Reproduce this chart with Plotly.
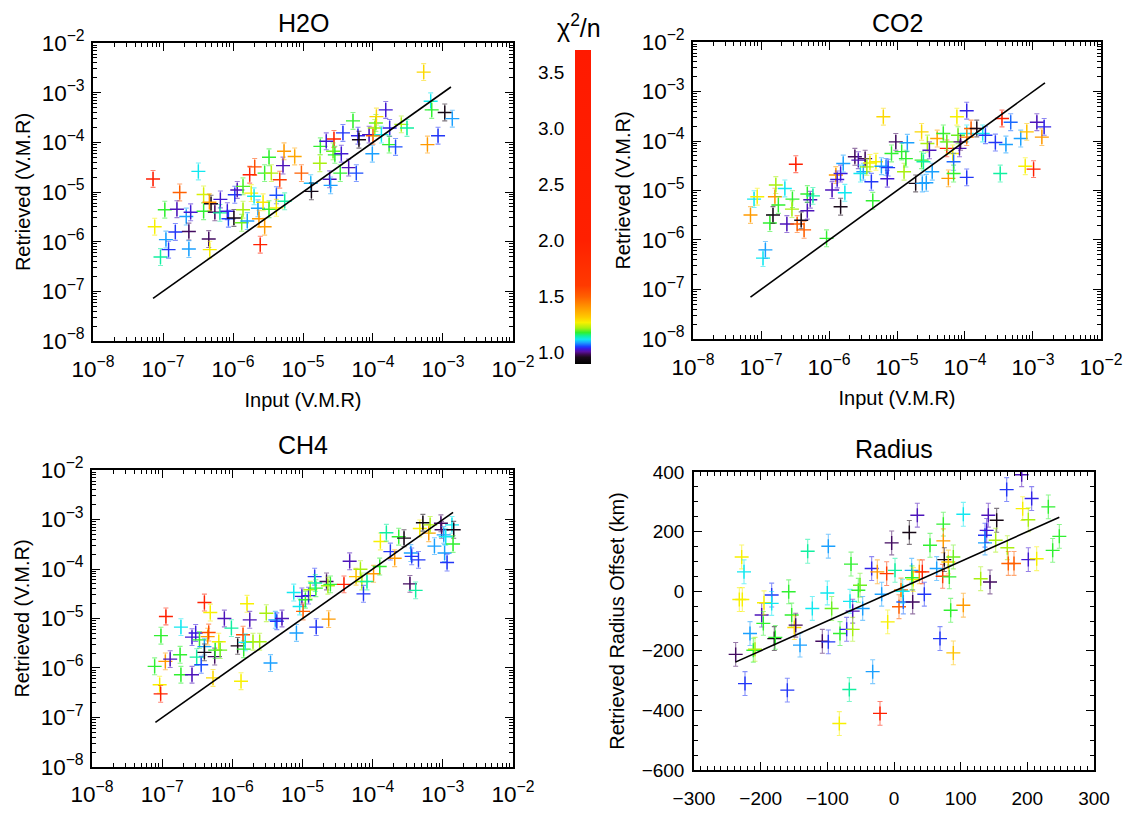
import plotly.graph_objects as go
from plotly.colors import sample_colorscale

FONT = "Liberation Sans, Arial, Helvetica, sans-serif"
W, H = 1140, 813

# ---------------- colour scale (chi^2/n) ----------------
CHI_MIN, CHI_MAX = 0.9, 3.7
CHI_STOPS = [0.90, 0.96, 0.985, 1.01, 1.035, 1.055, 1.09, 1.12, 1.15, 1.18,
             1.22, 1.27, 1.32, 1.40, 1.50, 1.60, 2.0, 3.7]
CHI_COLORS = ["rgb(0,0,0)", "rgb(26,10,26)", "rgb(60,10,80)", "rgb(90,16,160)",
              "rgb(58,26,224)", "rgb(26,64,255)", "rgb(26,160,255)", "rgb(16,232,240)",
              "rgb(16,240,160)", "rgb(48,240,48)", "rgb(168,240,16)", "rgb(248,240,0)",
              "rgb(255,200,0)", "rgb(255,154,0)", "rgb(255,96,0)", "rgb(255,58,0)",
              "rgb(255,32,0)", "rgb(255,26,0)"]
CBAR_TICKS = [1.0, 1.5, 2.0, 2.5, 3.0, 3.5]

# ---------------- H2O ----------------
H2O_INPUT = [7.2e-8, 7.6e-8, 9.2e-8, 1.06e-7, 1.1e-7, 1.2e-7, 1.73e-7, 1.5e-7, 1.58e-7, 2.15e-7,
             2.48e-7, 2.34e-7, 2.34e-7, 3.2e-7, 3.8e-7, 3.8e-7, 4.5e-7, 4.65e-7, 4.85e-7, 4.6e-7,
             5.5e-7, 6.5e-7, 6.6e-7, 8.3e-7, 8.6e-7, 1.03e-6, 1.06e-6, 1.15e-6, 1.33e-6, 1.39e-6,
             1.39e-6, 1.6e-6, 1.73e-6, 2.04e-6, 1.82e-6, 2.0e-6, 2.27e-6, 2.35e-6, 2.45e-6, 2.69e-6,
             2.83e-6, 2.83e-6, 3.27e-6, 3.27e-6, 3.53e-6, 4.17e-6, 4.17e-6, 4.65e-6, 5.18e-6, 5.36e-6,
             5.47e-6, 7.6e-6, 9.5e-6, 1.29e-5, 1.32e-5, 1.77e-5, 1.74e-5, 2.15e-5, 2.4e-5, 2.48e-5,
             2.77e-5, 2.69e-5, 2.85e-5, 3.53e-5, 3.72e-5, 3.41e-5, 4.49e-5, 5.18e-5, 5.78e-5, 6.1e-5,
             6.3e-5, 8.8e-5, 9.8e-5, 1.0e-4, 1.06e-4, 1.1e-4, 1.12e-4, 1.52e-4, 1.32e-4, 1.73e-4,
             1.7e-4, 2.1e-4, 2.54e-4, 3.06e-4, 5.3e-4, 6.0e-4, 6.67e-4, 6.9e-4, 8.5e-4, 1.06e-3,
             1.36e-3]
H2O_RETRIEVED = [1.83e-5, 2.0e-6, 4.9e-7, 4.4e-6, 1.1e-6, 6.9e-7, 9.8e-6, 1.57e-6, 4.5e-6, 3.2e-6,
                 3.9e-6, 1.6e-6, 7.1e-7, 2.6e-5, 8.9e-6, 4.1e-6, 1.13e-6, 6.9e-7, 5.8e-6, 6.2e-6,
                 3.9e-6, 3.8e-6, 7.1e-6, 4.1e-6, 2.9e-6, 3.0e-6, 8.8e-6, 1.1e-5, 2.4e-6, 4.4e-6,
                 1.3e-5, 2.6e-6, 2.23e-5, 3.2e-5, 9.5e-6, 8.2e-6, 4.7e-6, 2.9e-6, 8.7e-7, 6.2e-6,
                 2.0e-6, 2.4e-5, 5.0e-5, 4.5e-6, 2.4e-5, 8.6e-6, 4.8e-6, 1.77e-5, 3.4e-5, 6.6e-5,
                 6.5e-6, 5.2e-5, 2.4e-5, 1.5e-5, 1.03e-5, 8.3e-5, 3.8e-5, 1.05e-4, 1.8e-5, 1.36e-5,
                 1.17e-4, 6.6e-5, 5.6e-5, 5.9e-5, 1.55e-4, 2.4e-5, 3.1e-5, 2.7e-4, 2.4e-5, 1.36e-4,
                 1.13e-4, 1.43e-4, 5.9e-5, 1.36e-4, 1.95e-4, 2.46e-4, 3.3e-4, 4.5e-4, 1.43e-4, 1.95e-4,
                 9.0e-5, 8.1e-5, 2.3e-4, 1.95e-4, 2.6e-3, 9.0e-5, 6.7e-4, 4.5e-4, 1.36e-4, 4.0e-4,
                 3.0e-4]
H2O_CHI = [2.5, 1.27, 1.15, 1.18, 1.09, 1.05, 1.5, 1.05, 1.02, 1.09,
           1.03, 0.99, 1.09, 1.12, 1.25, 1.18, 0.99, 1.27, 0.95, 1.40,
           0.99, 1.15, 1.03, 1.035, 1.055, 0.96, 1.05, 1.02, 1.2, 1.22,
           1.19, 1.09, 2.2, 1.55, 1.27, 1.12, 1.09, 1.40, 2.0, 1.28,
           1.40, 1.18, 1.18, 1.18, 1.23, 1.06, 1.27, 1.6, 1.02, 1.40,
           1.15, 1.38, 1.5, 1.1, 0.95, 1.18, 1.22, 1.03, 1.02, 1.09,
           2.0, 1.2, 1.18, 1.03, 1.05, 1.18, 1.02, 1.18, 1.06, 1.04,
           0.95, 1.02, 1.09, 1.5, 1.22, 1.2, 1.3, 1.03, 1.12, 1.04,
           1.18, 1.06, 1.22, 1.15, 1.3, 1.40, 1.12, 1.18, 1.05, 0.95,
           1.09]

# ---------------- CO2 ----------------
CO2_INPUT = [7.0e-8, 7.9e-8, 8.8e-8, 1.07e-7, 1.16e-7, 1.35e-7, 1.5e-7, 1.6e-7, 1.65e-7, 1.8e-7,
             2.24e-7, 2.4e-7, 3.25e-7, 2.9e-7, 2.85e-7, 3.4e-7, 3.9e-7, 4.3e-7, 4.8e-7, 4.8e-7,
             5.3e-7, 5.8e-7, 9.2e-7, 1.11e-6, 1.26e-6, 1.32e-6, 1.48e-6, 1.48e-6, 1.62e-6, 1.71e-6,
             2.4e-6, 2.7e-6, 3.4e-6, 3.2e-6, 2.9e-6, 4.0e-6, 3.6e-6, 4.2e-6, 4.4e-6, 4.9e-6,
             5.9e-6, 6.3e-6, 6.9e-6, 7.2e-6, 7.4e-6, 8.3e-6, 9.6e-6, 1.17e-5, 1.27e-5, 1.35e-5,
             1.42e-5, 1.88e-5, 2.3e-5, 2.3e-5, 2.45e-5, 2.36e-5, 2.7e-5, 2.8e-5, 3.0e-5, 3.3e-5,
             3.9e-5, 4.8e-5, 5.4e-5, 5.7e-5, 5.4e-5, 6.6e-5, 6.8e-5, 6.8e-5, 7.6e-5, 8.3e-5,
             7.9e-5, 8.6e-5, 1.06e-4, 1.06e-4, 1.06e-4, 1.23e-4, 1.06e-4, 1.49e-4, 1.82e-4, 2.0e-4,
             2.8e-4, 3.5e-4, 3.3e-4, 4.0e-4, 4.7e-4, 6.6e-4, 7.7e-4, 8.1e-4, 1.02e-3, 1.14e-3,
             1.35e-3, 1.46e-3]
CO2_RETRIEVED = [3.2e-6, 6.7e-6, 7.5e-6, 4.3e-7, 6.3e-7, 2.2e-6, 3.2e-6, 7.5e-6, 1.29e-5, 5.1e-6,
                 1.1e-5, 2.1e-6, 3.4e-5, 6.7e-6, 4.2e-6, 2.1e-6, 2.5e-6, 1.6e-6, 3.9e-6, 8.5e-6,
                 6.5e-6, 7.8e-6, 1.08e-6, 1.02e-5, 2.05e-5, 1.67e-5, 2.2e-5, 4.7e-6, 3.5e-5, 9.0e-6,
                 4.8e-5, 4.1e-5, 4.4e-5, 2.4e-5, 2.2e-5, 3.6e-5, 3.0e-5, 1.5e-5, 6.2e-6, 3.8e-5,
                 3.1e-5, 3.1e-4, 3.0e-5, 1.73e-5, 2.9e-5, 5.6e-5, 9.6e-5, 6.1e-5, 2.4e-5, 4.4e-5,
                 9.2e-5, 1.39e-5, 1.53e-4, 4.1e-5, 3.8e-5, 1.39e-5, 1.43e-5, 8.9e-5, 6.5e-5, 2.4e-5,
                 1.12e-4, 1.42e-4, 7.1e-5, 1.76e-5, 9.6e-5, 5.6e-5, 3.8e-5, 2.2e-5, 3.1e-4, 7.1e-5,
                 1.31e-4, 9.6e-5, 4.1e-4, 1.84e-5, 1.42e-4, 1.79e-4, 1.2e-4, 1.79e-4, 1.42e-4, 1.31e-4,
                 9.3e-5, 2.85e-4, 2.2e-5, 8.5e-5, 2.4e-4, 1.12e-4, 3.1e-5, 1.53e-4, 2.7e-5, 2.4e-4,
                 1.2e-4, 1.93e-4]
CO2_CHI = [1.40, 1.12, 1.27, 1.12, 1.09, 1.18, 0.95, 1.40, 1.22, 1.18,
           1.12, 1.02, 2.3, 1.18, 1.22, 1.5, 0.95, 1.5, 1.02, 1.18,
           1.02, 1.15, 1.18, 1.02, 1.40, 1.03, 1.035, 0.96, 1.09, 1.12,
           0.99, 1.02, 0.99, 1.09, 1.12, 1.27, 1.22, 1.05, 1.18, 1.27,
           1.09, 1.30, 1.08, 1.03, 1.05, 1.18, 0.99, 1.18, 1.22, 1.18,
           1.09, 0.95, 1.30, 1.18, 1.15, 1.09, 1.09, 1.22, 1.02, 1.09,
           1.38, 1.18, 2.0, 1.40, 1.2, 1.27, 1.07, 1.18, 1.27, 1.02,
           1.2, 0.99, 1.04, 1.05, 1.12, 1.5, 1.45, 0.96, 1.12, 1.05,
           1.05, 2.2, 1.15, 1.09, 1.07, 1.09, 1.27, 1.33, 2.2, 1.02,
           1.40, 1.04]

# ---------------- CH4 ----------------
CH4_INPUT = [7.8e-8, 9.2e-8, 9.5e-8, 9.6e-8, 1.11e-7, 1.13e-7, 1.3e-7, 1.8e-7, 1.85e-7, 1.85e-7,
             2.66e-7, 2.66e-7, 3.0e-7, 3.1e-7, 3.4e-7, 3.6e-7, 4.0e-7, 4.0e-7, 4.0e-7, 4.45e-7,
             4.6e-7, 4.85e-7, 5.3e-7, 5.6e-7, 5.7e-7, 6.4e-7, 6.7e-7, 7.7e-7, 9.7e-7, 1.19e-6,
             1.42e-6, 1.33e-6, 1.45e-6, 1.53e-6, 1.62e-6, 1.77e-6, 1.97e-6, 2.45e-6, 3.05e-6, 3.5e-6,
             4.1e-6, 4.3e-6, 5.1e-6, 7.5e-6, 8.2e-6, 9.1e-6, 9.8e-6, 1.02e-5, 1.1e-5, 1.22e-5,
             1.29e-5, 1.49e-5, 1.57e-5, 1.55e-5, 1.52e-5, 2.2e-5, 2.3e-5, 2.5e-5, 2.36e-5, 3.9e-5,
             4.7e-5, 5.8e-5, 6.7e-5, 7.0e-5, 7.4e-5, 8.3e-5, 1.03e-4, 1.26e-4, 1.29e-4, 1.57e-4,
             1.79e-4, 2.06e-4, 2.35e-4, 2.8e-4, 3.4e-4, 3.5e-4, 3.6e-4, 4.1e-4, 4.5e-4, 4.7e-4,
             5.2e-4, 6.3e-4, 6.6e-4, 7.6e-4, 9.4e-4, 9.6e-4, 1.03e-3, 1.06e-3, 1.15e-3, 1.1e-3,
             1.35e-3, 1.43e-3, 1.4e-3]
CH4_RETRIEVED = [1.08e-6, 4.6e-7, 3.0e-7, 4.5e-6, 1.36e-6, 1.1e-5, 1.51e-6, 1.85e-6, 7.3e-7, 6.7e-6,
                 7.3e-7, 4.2e-6, 5.1e-6, 1.66e-6, 3.7e-6, 1.16e-6, 2.7e-6, 2.07e-6, 2.1e-5, 4.3e-6,
                 5.2e-6, 1.32e-5, 6.3e-7, 1.7e-6, 2.3e-6, 3.4e-6, 2.3e-6, 1.0e-5, 6.4e-6, 2.8e-6,
                 4.7e-6, 5.4e-7, 2.4e-6, 3.3e-6, 1.98e-5, 9.4e-6, 3.4e-6, 3.4e-6, 1.28e-5, 1.26e-6,
                 9.4e-6, 8.8e-6, 1.0e-5, 3.35e-5, 5.1e-6, 1.75e-5, 2.8e-5, 1.39e-5, 2.4e-5, 2.9e-5,
                 3.8e-5, 7.0e-5, 6.7e-6, 4.1e-5, 5.2e-5, 5.6e-5, 4.6e-5, 4.9e-5, 9.7e-6, 4.9e-5,
                 1.43e-4, 7.0e-5, 9.9e-5, 5.6e-5, 3.15e-5, 5.6e-5, 8.0e-5, 1.12e-4, 3.6e-4, 5.4e-4,
                 2.25e-4, 1.65e-4, 4.5e-4, 4.2e-4, 5.0e-5, 2.1e-4, 1.8e-4, 3.7e-5, 1.53e-4, 6.6e-4,
                 8.6e-4, 5.3e-4, 7.8e-4, 2.9e-4, 8.4e-4, 6.2e-4, 4.9e-4, 2.1e-4, 1.35e-4, 4.5e-4,
                 7.8e-4, 6.2e-4, 3.2e-4]
CH4_CHI = [1.18, 1.27, 2.3, 1.18, 1.40, 2.1, 1.02, 1.18, 1.18, 1.12,
           1.02, 1.03, 1.035, 1.15, 1.18, 1.06, 1.09, 0.96, 2.0, 1.40,
           1.55, 1.27, 1.30, 0.99, 1.18, 1.27, 1.2, 1.02, 1.15, 0.95,
           1.55, 1.27, 1.18, 1.12, 1.27, 1.02, 1.22, 1.22, 1.22, 1.09,
           1.09, 1.05, 1.02, 1.12, 1.09, 1.12, 1.03, 1.5, 1.18, 1.04,
           1.22, 1.05, 1.05, 1.18, 1.15, 0.99, 1.22, 1.18, 1.40, 2.0,
           1.02, 1.33, 1.22, 1.22, 1.05, 1.15, 1.40, 1.18, 1.27, 1.15,
           1.05, 1.40, 1.18, 0.96, 0.99, 1.09, 1.05, 1.15, 1.05, 1.27,
           0.93, 1.40, 1.22, 1.09, 0.99, 0.99, 1.09, 1.09, 1.05, 1.12,
           1.12, 0.95, 1.18]

# ---------------- Radius ----------------
RAD_INPUT = [-237.5, -228.5, -232, -227.5, -225, -223.5, -216, -211, -208.5, -198.5,
             -196, -195, -183.5, -183.5, -179.5, -178, -160, -158, -153.5, -149.5,
             -147.5, -141, -129.5, -122.5, -107.5, -100, -98.5, -98.5, -93.5, -81,
             -82, -71, -67, -64.5, -66, -62, -62, -53.5, -51, -47,
             -32, -33.5, -25, -21, -18.5, -11, -9.5, -3.5, 1.5, 7.5,
             10.5, 14, 13, 23, 26.5, 28, 29, 27, 35, 38,
             42.5, 45.5, 54, 64, 69, 74, 74, 73, 75.5, 81.5,
             83, 85, 89, 89, 104, 104, 130, 136.5, 136.5, 139,
             141.5, 144, 154, 152.5, 169, 170, 171.5, 180, 191.5, 193,
             201.5, 201.5, 206.5, 214, 231.5, 238, 248]
RAD_RETRIEVED = [-212, 115, -28, -28, 65, -310, -142, -198, -195, -80,
                 -108, -39, -13, -41, -159, -155, -332, -2, -80, -122,
                 -114, -181, 134, -58, -168, -6, -170, 151, -58, -142,
                 -444, -128, -330, 91, -34, -67, -128, 3, 20, -58,
                 -270, 76, 65, -410, -10, 59, -103, 162, 70, -52,
                 4, -36, 0, 197, 70, -36, 39, 45, 255, 65,
                 65, -10, 154, 76, -159, 225, 169, 50, 106, 98,
                 48, -64, 115, -207, -47, 258, 42, 188, 162, 204,
                 255, 31, 238, 171, 341, 146, 93, 93, 391, 277,
                 240, 106, 311, 109, 283, 137, 184]
RAD_CHI = [0.99, 1.27, 1.27, 1.27, 1.12, 1.05, 1.09, 1.18, 1.22, 1.02,
           1.18, 1.27, 1.05, 1.12, 0.95, 1.18, 1.05, 1.18, 1.18, 1.30,
           0.99, 1.09, 1.15, 1.12, 0.99, 1.12, 1.05, 1.09, 1.2, 1.18,
           1.27, 1.04, 1.15, 1.18, 1.12, 1.02, 1.22, 1.18, 1.2, 1.09,
           1.09, 1.04, 1.40, 2.2, 1.09, 1.6, 1.27, 0.99, 1.15, 1.5,
           1.45, 1.07, 1.12, 0.95, 1.09, 0.99, 1.27, 1.18, 1.02, 1.40,
           2.0, 1.05, 1.18, 1.09, 1.05, 1.18, 1.40, 1.6, 0.95, 1.32,
           1.18, 1.18, 1.2, 1.33, 1.40, 1.12, 1.22, 1.05, 1.09, 1.03,
           1.02, 0.99, 0.95, 1.22, 1.05, 1.22, 1.5, 1.5, 1.02, 1.27,
           1.22, 1.03, 1.04, 1.27, 1.18, 1.18, 1.18]

# one-to-one reference lines
H2O_LINE = [7.2e-8, 1.3e-3]
CO2_LINE = [7.0e-8, 1.5e-3]
CH4_LINE = [8.0e-8, 1.4e-3]
RAD_LINE = [-238, 248]

# uncertainties
LOG_ERR_DEX = 0.17
RAD_ERR = 40

# ---------------- figure ----------------
span = CHI_MAX - CHI_MIN
colorscale = [[(v - CHI_MIN) / span, c] for v, c in zip(CHI_STOPS, CHI_COLORS)]


def chi_color(v):
    p = min(max((v - CHI_MIN) / span, 0.0), 1.0)
    return sample_colorscale(colorscale, [p])[0]


def with_alpha(rgb, a):
    inner = rgb[rgb.index("(") + 1: rgb.index(")")]
    return f"rgba({inner},{a})"


fig = go.Figure()


def add_points(xs, ys, chis, xa, ya, log):
    for x, y, c in zip(xs, ys, chis):
        col = chi_color(c)
        if log:
            up = y * (10 ** LOG_ERR_DEX - 1)
            lo = y * (1 - 10 ** (-LOG_ERR_DEX))
        else:
            up = lo = RAD_ERR
        fig.add_trace(go.Scatter(
            x=[x], y=[y], xaxis=xa, yaxis=ya, mode="markers",
            marker=dict(symbol="cross-thin", size=10, line=dict(width=1.4, color=col)),
            error_y=dict(type="data", symmetric=False, array=[up], arrayminus=[lo],
                         color=with_alpha(col, 0.55), thickness=1.1, width=2.5),
            hoverinfo="skip", showlegend=False))


def add_line(vals, xa, ya):
    fig.add_trace(go.Scatter(x=vals, y=vals, xaxis=xa, yaxis=ya, mode="lines",
                             line=dict(color="black", width=1.6),
                             hoverinfo="skip", showlegend=False))


add_points(H2O_INPUT, H2O_RETRIEVED, H2O_CHI, "x", "y", True)
add_line(H2O_LINE, "x", "y")
add_points(CO2_INPUT, CO2_RETRIEVED, CO2_CHI, "x2", "y2", True)
add_line(CO2_LINE, "x2", "y2")
add_points(CH4_INPUT, CH4_RETRIEVED, CH4_CHI, "x3", "y3", True)
add_line(CH4_LINE, "x3", "y3")
add_points(RAD_INPUT, RAD_RETRIEVED, RAD_CHI, "x4", "y4", False)
add_line(RAD_LINE, "x4", "y4")

# colour bar (from a hidden trace)
CB_TOP, CB_BOT, CB_LEFT, CB_W = 50, 364, 575, 16
fig.add_trace(go.Scatter(
    x=[None], y=[None], xaxis="x", yaxis="y", mode="markers", showlegend=False,
    hoverinfo="skip",
    marker=dict(color=[CHI_MIN], cmin=CHI_MIN, cmax=CHI_MAX, colorscale=colorscale,
                showscale=True,
                colorbar=dict(x=CB_LEFT / W, xanchor="left", xpad=0, ypad=0,
                              y=1 - (CB_TOP + CB_BOT) / 2 / H, yanchor="middle",
                              len=CB_BOT - CB_TOP, lenmode="pixels",
                              thickness=CB_W, thicknessmode="pixels",
                              outlinewidth=0, ticks="", showticklabels=False))))


def px_dom_x(a, b):
    return [a / W, b / W]


def px_dom_y(top, bottom):
    return [1 - bottom / H, 1 - top / H]


tickfont = dict(family=FONT, size=18, color="black")
titlefont = dict(family=FONT, size=20, color="black")


def log_axis(dom, anchor, title=None, is_y=False, standoff=8):
    d = dict(type="log", range=[-8.0005, -1.9995], domain=dom, anchor=anchor, dtick=1,
             exponentformat="power", showexponent="all", automargin=False,
             ticks="inside", ticklen=8, tickwidth=1.2, tickcolor="black",
             minor=dict(ticks="inside", ticklen=4, dtick="D1", tickcolor="black", tickwidth=1),
             showline=True, linecolor="black", linewidth=1.5, mirror="allticks",
             showgrid=False, zeroline=False, tickfont=tickfont,
             ticklabelstandoff=3 if is_y else standoff)
    if title:
        d["title"] = dict(text=title, font=titlefont, standoff=6 if is_y else 12)
    return d


def lin_axis(dom, anchor, rng, dtick, mdtick, title=None, is_y=False, standoff=8):
    d = dict(type="linear", range=rng, domain=dom, anchor=anchor, dtick=dtick,
             automargin=False,
             ticks="inside", ticklen=8, tickwidth=1.2, tickcolor="black",
             minor=dict(ticks="inside", ticklen=4, dtick=mdtick, tickcolor="black", tickwidth=1),
             showline=True, linecolor="black", linewidth=1.5, mirror="allticks",
             showgrid=False, zeroline=False, tickfont=dict(family=FONT, size=19, color="black"),
             ticklabelstandoff=4 if is_y else standoff)
    if title:
        d["title"] = dict(text=title, font=titlefont, standoff=12 if is_y else 12)
    return d


PANELS = {
    "h2o": (93, 513, 43, 341),
    "co2": (693, 1101, 42, 339),
    "ch4": (92, 513, 470, 767),
    "rad": (694, 1094, 472, 770),
}

fig.update_layout(
    width=W, height=H, autosize=False,
    margin=dict(l=0, r=0, t=0, b=0, pad=0),
    paper_bgcolor="white", plot_bgcolor="white",
    font=dict(family=FONT, color="black"),
    showlegend=False,
    xaxis=log_axis(px_dom_x(*PANELS["h2o"][:2]), "y", "Input (V.M.R)"),
    yaxis=log_axis(px_dom_y(*PANELS["h2o"][2:]), "x", "Retrieved (V.M.R)", True),
    xaxis2=log_axis(px_dom_x(*PANELS["co2"][:2]), "y2", "Input (V.M.R)"),
    yaxis2=log_axis(px_dom_y(*PANELS["co2"][2:]), "x2", "Retrieved (V.M.R)", True),
    xaxis3=log_axis(px_dom_x(*PANELS["ch4"][:2]), "y3", standoff=7),
    yaxis3=log_axis(px_dom_y(*PANELS["ch4"][2:]), "x3", "Retrieved (V.M.R)", True),
    xaxis4=lin_axis(px_dom_x(*PANELS["rad"][:2]), "y4", [-300, 300], 100, 10, standoff=10),
    yaxis4=lin_axis(px_dom_y(*PANELS["rad"][2:]), "x4", [-600, 400], 200, 50,
                    "Retrieved Radius Offset (km)", True),
)

annotations = []
TITLES = [("H2O", "h2o", 23), ("CO2", "co2", 23), ("CH4", "ch4", 445), ("Radius", "rad", 449)]
for text, key, ypx in TITLES:
    l, r, _, _ = PANELS[key]
    annotations.append(dict(text=text, x=(l + r) / 2 / W, y=1 - ypx / H, xref="paper", yref="paper",
                            xanchor="center", yanchor="middle", showarrow=False,
                            font=dict(family=FONT, size=25, color="black")))

for v in CBAR_TICKS:
    ypx = CB_BOT - (v - CHI_MIN) / span * (CB_BOT - CB_TOP)
    annotations.append(dict(text=f"{v:.1f}", x=566 / W, y=1 - ypx / H, xref="paper", yref="paper",
                            xanchor="right", yanchor="middle", showarrow=False,
                            font=dict(family=FONT, size=19, color="black")))
annotations.append(dict(text="χ<sup>2</sup>/n", x=579 / W, y=1 - 26 / H, xref="paper", yref="paper",
                        xanchor="center", yanchor="middle", showarrow=False,
                        font=dict(family=FONT, size=25, color="black")))
fig.update_layout(annotations=annotations)

fig.write_html("out.html", config={"displayModeBar": False},
               post_script="document.body.style.margin='0px';document.body.style.overflow='hidden';")
